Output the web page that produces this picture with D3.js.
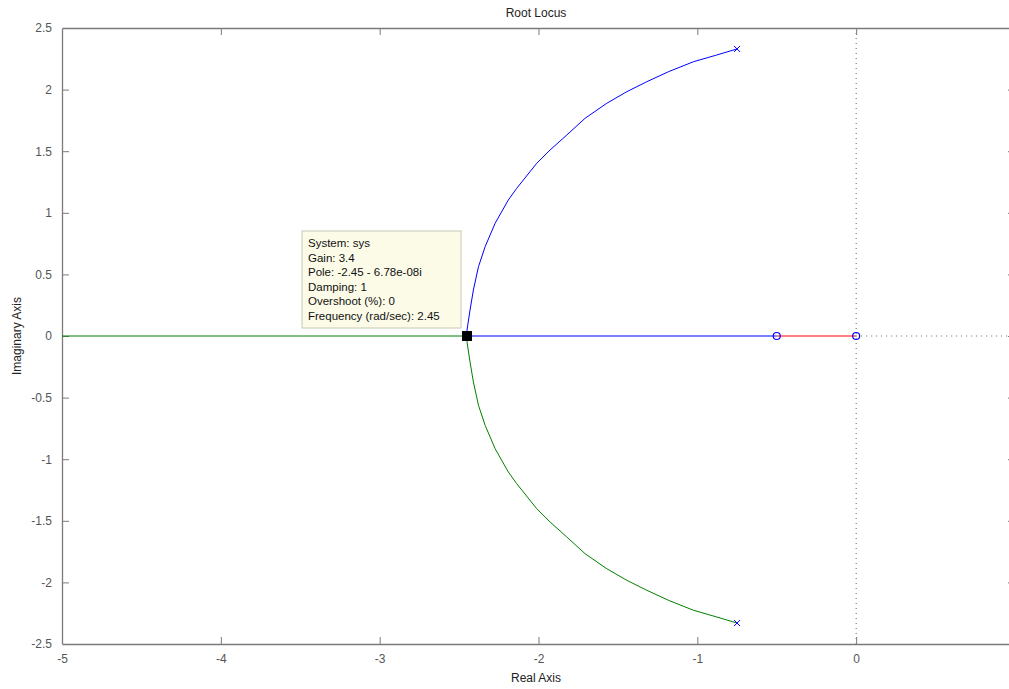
<!DOCTYPE html>
<html>
<head>
<meta charset="utf-8">
<script src="https://cdn.jsdelivr.net/npm/d3@7"></script>
<style>
  body{margin:0;background:#fff;overflow:hidden}
  text{font-family:"Liberation Sans",Arial,sans-serif}
</style>
</head>
<body>
<div id="graph"></div>
<script>
// values
let xTicks=[-5,-4,-3,-2,-1,0]
let yTicks=[-2.5,-2,-1.5,-1,-0.5,0,0.5,1,1.5,2,2.5]
// upper branch, from pole to break-in point
let blueRe=[-0.75,-0.877,-1.025,-1.182,-1.318,-1.444,-1.57,-1.707,-1.822,-1.927,-2.011,-2.137,-2.19,-2.273,-2.336,-2.378,-2.41,-2.431,-2.45,-2.45]
let blueIm=[2.33,2.281,2.226,2.145,2.064,1.983,1.889,1.767,1.631,1.51,1.402,1.199,1.104,0.915,0.725,0.562,0.373,0.211,0.049,0]
let blueReal=[-2.45,-0.5]
let greenReal=[-6,-2.45]
let redReal=[-0.5,0]
let poles=[[-0.75,2.33],[-0.75,-2.33]]
let zeros=[-0.5,0]
let tipPoint=[-2.45,0]
let tipLines=["System: sys","Gain: 3.4","Pole: -2.45 - 6.78e-08i","Damping: 1","Overshoot (%): 0","Frequency (rad/sec): 2.45"]

let width=1009,height=689
let pLeft=62,pTop=28,pRight=1015,pBottom=644

let svg=d3.select("#graph").append("svg")
.attr("width",width)
.attr("height",height)

let x=d3.scaleLinear().domain([-5,1]).range([pLeft,pRight])
let y=d3.scaleLinear().domain([-2.5,2.5]).range([pBottom,pTop])

let axisColor="#7a7a7a"
let labelColor="#555"
let fmt=d=>String(d)

// dotted lines through origin
svg.append("line")
.attr("x1",x(0)).attr("x2",x(0)).attr("y1",pTop).attr("y2",pBottom)
.attr("stroke","#666").attr("stroke-dasharray","1,4")
svg.append("line")
.attr("x1",x(0)).attr("x2",pRight).attr("y1",y(0)).attr("y2",y(0))
.attr("stroke","#666").attr("stroke-dasharray","1,4")

// axes (ticks inward)
let xb=svg.append("g").attr("transform",`translate(0,${pBottom})`)
.call(d3.axisBottom(x).tickValues(xTicks).tickFormat(fmt).tickSizeInner(-7).tickSizeOuter(0).tickPadding(10))
let xt=svg.append("g").attr("transform",`translate(0,${pTop})`)
.call(d3.axisTop(x).tickValues(xTicks).tickSizeInner(-7).tickSizeOuter(0).tickFormat(""))
let yl=svg.append("g").attr("transform",`translate(${pLeft},0)`)
.call(d3.axisLeft(y).tickValues(yTicks).tickFormat(fmt).tickSizeInner(-7).tickSizeOuter(0).tickPadding(10))
let yr=svg.append("g").attr("transform",`translate(${pRight},0)`)
.call(d3.axisRight(y).tickValues(yTicks).tickSizeInner(-7).tickSizeOuter(0).tickFormat(""))

svg.selectAll(".domain").attr("stroke",axisColor).attr("stroke-width",1.3)
svg.selectAll(".tick line").attr("stroke",axisColor)
svg.selectAll(".tick text").attr("fill",labelColor).style("font-size","12px")
yl.selectAll(".tick").filter(d=>d===2.5||d===-2.5).select("line").remove()
xb.selectAll(".tick").filter(d=>d===-5).select("line").remove()
xt.selectAll(".tick").filter(d=>d===-5).select("line").remove()

// locus lines
let line=d3.line().x(d=>x(d[0])).y(d=>y(d[1]))
let upper=blueRe.map((r,i)=>[r,blueIm[i]])
let lower=blueRe.map((r,i)=>[r,-blueIm[i]])

svg.append("clipPath").attr("id","clip").append("rect")
.attr("x",pLeft).attr("y",pTop).attr("width",pRight-pLeft).attr("height",pBottom-pTop)
let plot=svg.append("g").attr("clip-path","url(#clip)")

plot.append("path").attr("d",line(greenReal.map(r=>[r,0]))).attr("stroke","#008000").attr("fill","none")
plot.append("path").attr("d",line(lower)).attr("stroke","#008000").attr("fill","none")
plot.append("path").attr("d",line(blueReal.map(r=>[r,0]))).attr("stroke","#0000ff").attr("fill","none")
plot.append("path").attr("d",line(upper)).attr("stroke","#0000ff").attr("fill","none")
plot.append("path").attr("d",line(redReal.map(r=>[r,0]))).attr("stroke","#ff0000").attr("fill","none")

// pole crosses
poles.forEach(p=>{
  let cx=x(p[0]),cy=y(p[1])
  plot.append("path")
  .attr("d",`M${cx-3},${cy-3}L${cx+3},${cy+3}M${cx-3},${cy+3}L${cx+3},${cy-3}`)
  .attr("stroke","#0000ff").attr("stroke-width",1)
})
// zero circles
plot.selectAll("circle.zero").data(zeros).enter().append("circle")
.attr("class","zero")
.attr("cx",d=>x(d)).attr("cy",y(0)).attr("r",3.5)
.attr("fill","none").attr("stroke","#0000ff").attr("stroke-width",1.2)

// data tip
let tip=svg.append("g")
tip.append("rect")
.attr("x",302).attr("y",231).attr("width",159).attr("height",97)
.attr("fill","#fbfbe8").attr("stroke","#c8c8b4")
tip.selectAll("text").data(tipLines).enter().append("text")
.attr("x",308).attr("y",(d,i)=>247+i*14.6)
.style("font-size","11.5px").attr("fill","#111")
.text(d=>d)
svg.append("rect")
.attr("x",x(tipPoint[0])-5).attr("y",y(tipPoint[1])-5).attr("width",10).attr("height",10)
.attr("fill","#000")

// titles
svg.append("text").attr("x",536).attr("y",17).attr("text-anchor","middle")
.style("font-size","12px").attr("fill","#222").text("Root Locus")
svg.append("text").attr("x",536).attr("y",682).attr("text-anchor","middle")
.style("font-size","12px").attr("fill","#222").text("Real Axis")
svg.append("text").attr("transform","translate(21,336) rotate(-90)").attr("text-anchor","middle")
.style("font-size","12px").attr("fill","#222").text("Imaginary Axis")
</script>
</body>
</html>
